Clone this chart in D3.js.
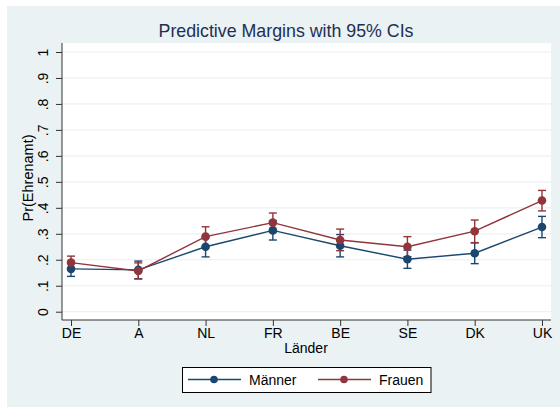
<!DOCTYPE html>
<html>
<head>
<meta charset="utf-8">
<script src="https://cdn.jsdelivr.net/npm/d3@7.9.0/dist/d3.min.js"></script>
<style>
  html, body { margin: 0; padding: 0; background: #fff; }
  svg { display: block; font-family: "Liberation Sans", Arial, sans-serif; }
</style>
</head>
<body>
<svg id="chart" width="560" height="407"></svg>
<script>
// data
const countries = ["DE", "A", "NL", "FR", "BE", "SE", "DK", "UK"];
const yTicks = [0, .1, .2, .3, .4, .5, .6, .7, .8, .9, 1];

const maennerMargin = [0.165, 0.161, 0.250, 0.313, 0.254, 0.202, 0.225, 0.326];
const maennerLo     = [0.136, 0.127, 0.211, 0.276, 0.211, 0.167, 0.185, 0.285];
const maennerHi     = [0.194, 0.195, 0.289, 0.350, 0.297, 0.237, 0.265, 0.367];

const frauenMargin = [0.189, 0.157, 0.289, 0.343, 0.276, 0.250, 0.310, 0.428];
const frauenLo     = [0.164, 0.126, 0.251, 0.306, 0.235, 0.212, 0.266, 0.388];
const frauenHi     = [0.214, 0.188, 0.327, 0.380, 0.318, 0.289, 0.353, 0.467];

const series = [
  { name: "Männer", color: "#1a476f", m: maennerMargin, lo: maennerLo, hi: maennerHi },
  { name: "Frauen", color: "#90353b", m: frauenMargin, lo: frauenLo, hi: frauenHi }
];

const bg = "#eaf2f3";
const svg = d3.select("#chart");

// outer graph region
svg.append("rect").attr("x", 7).attr("y", 6).attr("width", 553).attr("height", 401).attr("fill", bg);

const plot = { left: 62, right: 551, top: 43, bottom: 320 };
svg.append("rect")
  .attr("x", plot.left).attr("y", plot.top)
  .attr("width", plot.right - plot.left).attr("height", plot.bottom - plot.top)
  .attr("fill", "#fff");

const x = d3.scalePoint().domain(countries).range([plot.left, plot.right]).padding(0.134);
const y = d3.scaleLinear().domain([0, 1]).range([311.7, 52]);

// gridlines
svg.append("g").selectAll("line").data(yTicks).join("line")
  .attr("x1", plot.left).attr("x2", plot.right)
  .attr("y1", d => y(d)).attr("y2", d => y(d))
  .attr("stroke", bg).attr("stroke-width", 1.2);

// y axis
const yAxis = svg.append("g")
  .attr("transform", `translate(${plot.left},0)`)
  .call(d3.axisLeft(y).tickValues(yTicks).tickSize(6).tickPadding(4)
    .tickFormat(d => d === 0 ? "0" : d === 1 ? "1" : d3.format(".1f")(d).replace(/^0/, "")));
yAxis.select(".domain").attr("d", `M0,${plot.top}V${plot.bottom}`).attr("stroke", "#333");
yAxis.selectAll(".tick line").attr("stroke", "#333");
yAxis.selectAll(".tick text")
  .attr("transform", "rotate(-90)")
  .attr("x", 0).attr("y", -19)
  .attr("dy", "0.35em")
  .attr("text-anchor", "middle")
  .attr("font-size", 14).attr("fill", "#000");

// x axis
const xAxis = svg.append("g")
  .attr("transform", `translate(0,${plot.bottom})`)
  .call(d3.axisBottom(x).tickSize(6).tickPadding(2));
xAxis.select(".domain").attr("d", `M${plot.left},0H${plot.right}`).attr("stroke", "#333");
xAxis.selectAll(".tick line").attr("stroke", "#333");
xAxis.selectAll(".tick text").attr("font-size", 14).attr("fill", "#000");

// axis titles
svg.append("text").attr("x", 306).attr("y", 353)
  .attr("text-anchor", "middle").attr("font-size", 14).text("Länder");
svg.append("text")
  .attr("transform", `translate(33,178) rotate(-90)`)
  .attr("text-anchor", "middle").attr("font-size", 14.5).text("Pr(Ehrenamt)");

// title
svg.append("text").attr("x", 286).attr("y", 37)
  .attr("text-anchor", "middle").attr("font-size", 17.8).attr("fill", "#1e2f55")
  .text("Predictive Margins with 95% CIs");

// error bars
series.forEach(s => {
  const g = svg.append("g").attr("stroke", s.color).attr("stroke-width", 1.4).attr("fill", "none");
  countries.forEach((c, i) => {
    const cx = x(c);
    g.append("line").attr("x1", cx).attr("x2", cx).attr("y1", y(s.lo[i])).attr("y2", y(s.hi[i]));
    g.append("line").attr("x1", cx - 4).attr("x2", cx + 4).attr("y1", y(s.lo[i])).attr("y2", y(s.lo[i]));
    g.append("line").attr("x1", cx - 4).attr("x2", cx + 4).attr("y1", y(s.hi[i])).attr("y2", y(s.hi[i]));
  });
});

// lines and markers
const line = d3.line().x((d, i) => x(countries[i])).y(d => y(d));
series.forEach(s => {
  svg.append("path").attr("d", line(s.m)).attr("fill", "none")
    .attr("stroke", s.color).attr("stroke-width", 1.4);
  svg.append("g").selectAll("circle").data(s.m).join("circle")
    .attr("cx", (d, i) => x(countries[i])).attr("cy", d => y(d))
    .attr("r", 4.3).attr("fill", s.color);
});

// legend
const lg = svg.append("g");
lg.append("rect").attr("x", 182.5).attr("y", 367.5).attr("width", 248.5).attr("height", 25)
  .attr("fill", "#fff").attr("stroke", "#000").attr("stroke-width", 1);
const legendX = [188, 318];
series.forEach((s, i) => {
  const lx = legendX[i];
  lg.append("line").attr("x1", lx).attr("x2", lx + 53).attr("y1", 379.5).attr("y2", 379.5)
    .attr("stroke", s.color).attr("stroke-width", 1.4);
  lg.append("circle").attr("cx", lx + 26).attr("cy", 379.5).attr("r", 3.8).attr("fill", s.color);
  lg.append("text").attr("x", lx + 61).attr("y", 384.5).attr("font-size", 14).text(s.name);
});
</script>
</body>
</html>
